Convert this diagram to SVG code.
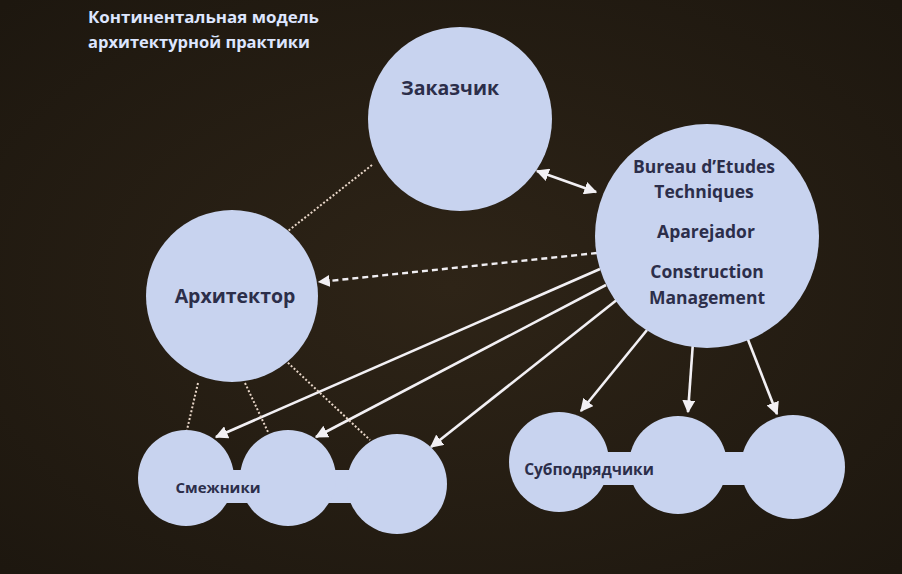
<svg xmlns="http://www.w3.org/2000/svg" width="902" height="574" viewBox="0 0 902 574">
<defs>
<radialGradient id="bg" cx="0.5" cy="0.5" r="0.7">
<stop offset="0" stop-color="#2e2417"/>
<stop offset="1" stop-color="#1d170f"/>
</radialGradient>
<marker id="ah" viewBox="0 0 10 10" refX="9" refY="5" markerWidth="5" markerHeight="5" orient="auto-start-reverse" markerUnits="strokeWidth">
<path d="M0,0 L10,5 L0,10 Z" fill="#f2f0f4"/>
</marker>
<style>
.node{fill:#c8d3ef}
.lbl{font-family:"Open Sans","DejaVu Sans",sans-serif;font-weight:bold;fill:#2c2e4a;text-anchor:middle}
.title{font-family:"Open Sans","DejaVu Sans",sans-serif;font-weight:bold;fill:#dde6ff;font-size:16.5px}
.solid{stroke:#f2f0f4;stroke-width:2.6;fill:none}
.dot{stroke:#e8d6c8;stroke-width:2;stroke-dasharray:2 2;fill:none}
.dash{stroke:#f0eef2;stroke-width:2.4;stroke-dasharray:6 4;fill:none}
</style>
</defs>
<rect width="902" height="574" fill="url(#bg)"/>
<g id="title">
<text class="title" x="88" y="23" textLength="231" lengthAdjust="spacingAndGlyphs">Континентальная модель</text>
<text class="title" x="88" y="48" textLength="222" lengthAdjust="spacingAndGlyphs">архитектурной практики</text>
</g>
<g id="connectors">
<line class="solid" x1="537" y1="171" x2="596" y2="192" marker-start="url(#ah)" marker-end="url(#ah)"/>
<line class="dot" x1="372" y1="165" x2="288" y2="231"/>
<line class="dash" x1="597" y1="253" x2="319" y2="282" marker-end="url(#ah)"/>
<line class="solid" x1="600" y1="269" x2="216" y2="437" marker-end="url(#ah)"/>
<line class="solid" x1="606" y1="285" x2="316" y2="437" marker-end="url(#ah)"/>
<line class="solid" x1="618" y1="299" x2="431" y2="447" marker-end="url(#ah)"/>
<line class="solid" x1="647" y1="330" x2="581" y2="411" marker-end="url(#ah)"/>
<line class="solid" x1="693" y1="342" x2="688" y2="412" marker-end="url(#ah)"/>
<line class="solid" x1="745" y1="332" x2="777" y2="414" marker-end="url(#ah)"/>
<line class="dot" x1="198" y1="383" x2="187" y2="430"/>
<line class="dot" x1="245" y1="383" x2="268" y2="432"/>
<line class="dot" x1="285" y1="360" x2="370" y2="440"/>
</g>
<g id="zakazchik">
<circle class="node" cx="460" cy="119" r="92"/>
<text class="lbl" x="450" y="95" font-size="19.5">Заказчик</text>
</g>
<g id="bureau">
<circle class="node" cx="707" cy="236" r="112"/>
<text class="lbl" x="704" y="173" font-size="17.5">Bureau d’Etudes</text>
<text class="lbl" x="704" y="198" font-size="17.5">Techniques</text>
<text class="lbl" x="706" y="238" font-size="17.5">Aparejador</text>
<text class="lbl" x="707" y="278" font-size="17.5">Construction</text>
<text class="lbl" x="707" y="304" font-size="17.5">Management</text>
</g>
<g id="arkhitektor">
<circle class="node" cx="232" cy="296" r="86"/>
<text class="lbl" x="235" y="303" font-size="19.5">Архитектор</text>
</g>
<g id="smezhniki">
<rect class="node" x="186" y="470" width="211" height="33"/>
<circle class="node" cx="186" cy="478" r="48"/>
<circle class="node" cx="288" cy="478" r="48"/>
<circle class="node" cx="397" cy="484" r="50"/>
<text class="lbl" x="218" y="493" font-size="15">Смежники</text>
</g>
<g id="subpodryadchiki">
<rect class="node" x="559" y="452" width="234" height="33"/>
<circle class="node" cx="559" cy="462" r="50"/>
<circle class="node" cx="678" cy="465" r="49"/>
<circle class="node" cx="793" cy="467" r="52"/>
<text class="lbl" x="589" y="475" font-size="15.5">Субподрядчики</text>
</g>
</svg>
